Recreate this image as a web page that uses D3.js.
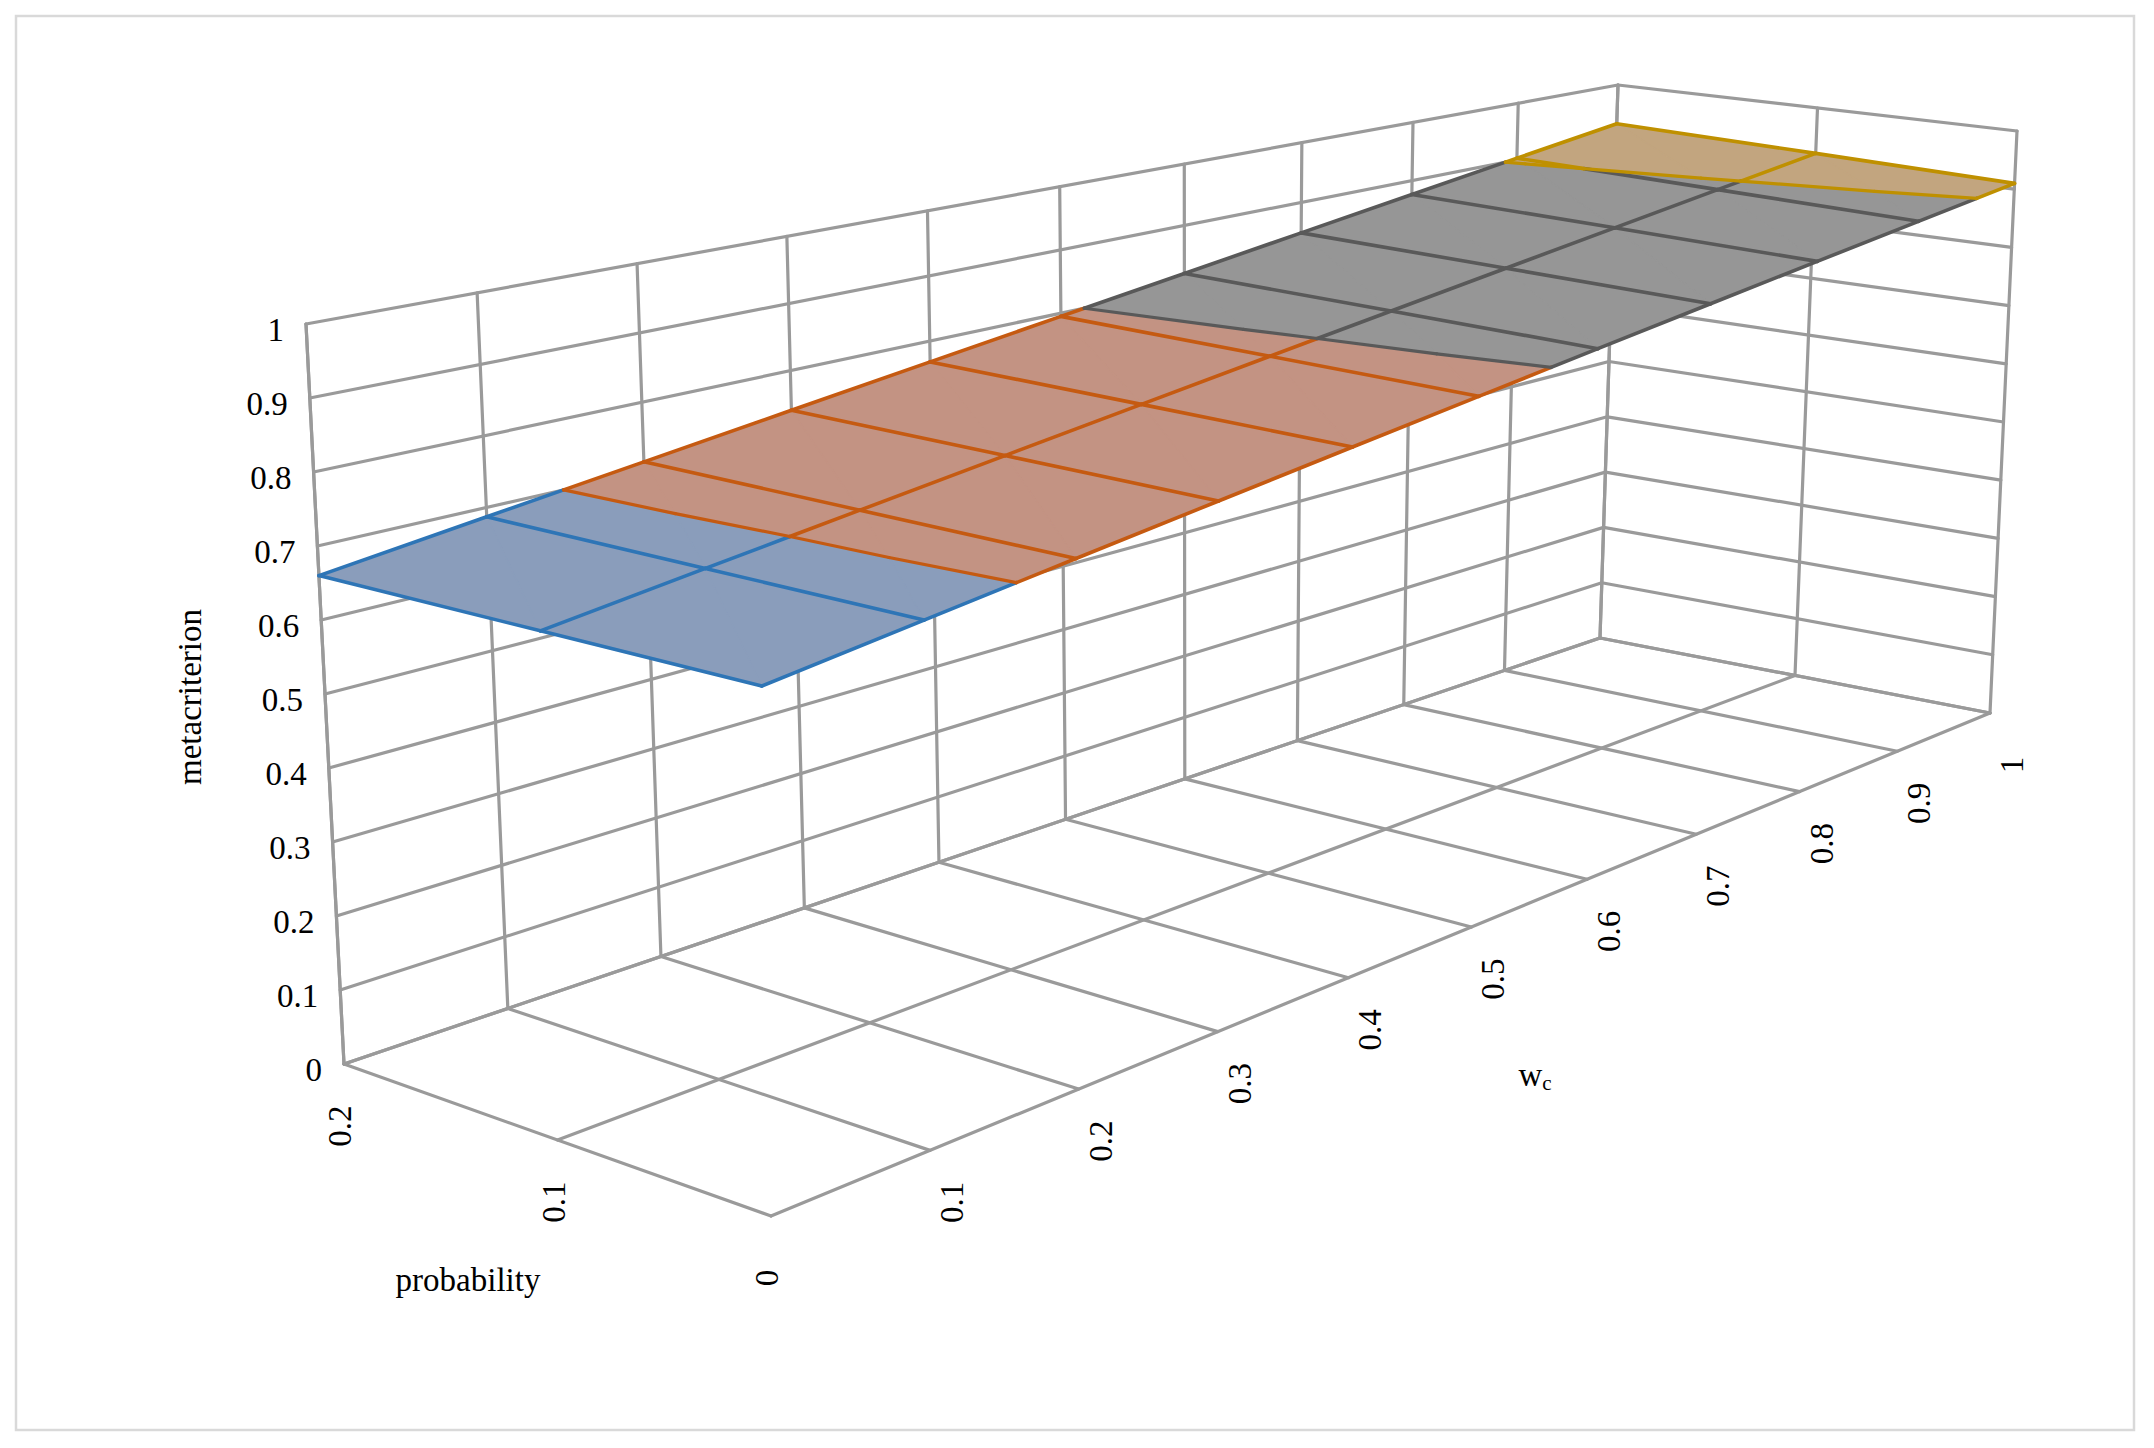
<!DOCTYPE html><html><head><meta charset="utf-8"><script src="https://cdn.jsdelivr.net/npm/d3@7"></script>
<style>body{margin:0;background:#fff}</style></head><body><svg id="c" width="2154" height="1448"></svg>
<script>
const wValues=[0,0.1,0.2,0.3,0.4,0.5,0.6,0.7,0.8,0.9,1];
const pValues=[0,0.1,0.2];
const zTicks=[0,0.1,0.2,0.3,0.4,0.5,0.6,0.7,0.8,0.9,1];
const zRow0=[0.66,0.685,0.71,0.735,0.76,0.785,0.81,0.835,0.86,0.885,0.91];
const zRow1=[0.66,0.686,0.712,0.738,0.764,0.79,0.816,0.842,0.868,0.894,0.92];
const zRow2=[0.66,0.687,0.714,0.741,0.768,0.795,0.822,0.849,0.876,0.903,0.93];
const zRows=[zRow0,zRow1,zRow2];
const bands=[0.6,0.7,0.8,0.9,1.0];
const fills=["#8a9dbb","#c39383","#969696","#c2a57f"];
const edges=["#2e75b6","#c55a11","#595959","#bf9000"];

const svg=d3.select("#c");
svg.append("rect").attr("x",16).attr("y",16).attr("width",2118).attr("height",1414).attr("fill","#fff").attr("stroke","#d9d9d9").attr("stroke-width",2.5);
const C={"000":[771,1216],"001":[757,413],"010":[1990,713],"011":[2017,131],
"100":[344,1064],"101":[306,324],"110":[1600,638],"111":[1618,85]};
const pS=d3.scaleLinear().domain([0,0.2]).range([0,1]);
const wS=d3.scaleLinear().domain([0,1]).range([0,1]);
const zS=d3.scaleLinear().domain([0,1]).range([0,1]);
const a=1.35;
function P(p,w,z){
  const u=pS(p), t0=wS(w), v=zS(z);
  const t=t0*a/(1+(a-1)*t0);
  let x=0,y=0;
  for(const i of [0,1])for(const j of [0,1])for(const k of [0,1]){
    const wt=(i?u:1-u)*(j?t:1-t)*(k?v:1-v);
    const c=C[""+i+j+k]; x+=wt*c[0]; y+=wt*c[1];
  }
  return [x,y];
}
const grid="#9a9a9a", gw=3.2;
function line(a,b,col,w){svg.append("line").attr("x1",a[0]).attr("y1",a[1]).attr("x2",b[0]).attr("y2",b[1]).attr("stroke",col).attr("stroke-width",w).attr("stroke-linecap","round");}
zTicks.forEach(z=>line(P(0.2,0,z),P(0.2,1,z),grid,gw));
wValues.forEach(w=>line(P(0.2,w,0),P(0.2,w,1),grid,gw));
zTicks.forEach(z=>line(P(0.2,1,z),P(0,1,z),grid,gw));
pValues.forEach(p=>line(P(p,1,0),P(p,1,1),grid,gw));
wValues.forEach(w=>line(P(0,w,0),P(0.2,w,0),grid,gw));
pValues.forEach(p=>line(P(p,0,0),P(p,1,0),grid,gw));
line(P(0.2,0,0),P(0.2,0,1),grid,gw);

function zAt(i,j){return zRows[i][j];}
function clip(poly,lo,hi){
  function cl(pts,f){const out=[];for(let k=0;k<pts.length;k++){const A=pts[k],B=pts[(k+1)%pts.length];const fa=f(A),fb=f(B);
    if(fa>=0)out.push(A); if((fa>=0)!==(fb>=0)){const s=fa/(fa-fb);out.push(A.map((v,q)=>v+s*(B[q]-v)));}}return out;}
  let r=cl(poly,P3=>P3[2]-lo); if(r.length) r=cl(r,P3=>hi-P3[2]); return r;
}
const gS=svg.append("g");
const contours=[];
for(let i=0;i<pValues.length-1;i++)for(let j=0;j<wValues.length-1;j++){
  const q=[[pValues[i],wValues[j],zAt(i,j)],[pValues[i],wValues[j+1],zAt(i,j+1)],[pValues[i+1],wValues[j+1],zAt(i+1,j+1)],[pValues[i+1],wValues[j],zAt(i+1,j)]];
  const tris=[[q[0],q[1],q[2]],[q[0],q[2],q[3]]];
  tris.forEach(tr=>{for(let b=0;b<bands.length-1;b++){const pc=clip(tr,bands[b],bands[b+1]);if(pc.length>=3){
    gS.append("path").attr("d","M"+pc.map(v=>P(v[0],v[1],v[2]).join(",")).join("L")+"Z").attr("fill",fills[b]).attr("stroke",fills[b]).attr("stroke-width",1.2);}}
    // contour at thresholds
    for(let b=1;b<bands.length-1;b++){const th=bands[b];const pts=[];
      for(let k=0;k<3;k++){const A=tr[k],B=tr[(k+1)%3];if((A[2]-th)*(B[2]-th)<0){const s=(th-A[2])/(B[2]-A[2]);pts.push(A.map((v,q2)=>v+s*(B[q2]-v)));}}
      if(pts.length===2)contours.push([pts[0],pts[1],b-1]);}
  });
}
function seg(A,B){for(let b=0;b<bands.length-1;b++){const lo=bands[b],hi=bands[b+1];
  let s0=0,s1=1;const za=A[2],zb=B[2];
  if(zb!==za){let t1=(lo-za)/(zb-za),t2=(hi-za)/(zb-za);if(t1>t2)[t1,t2]=[t2,t1];s0=Math.max(0,t1);s1=Math.min(1,t2);}else if(za<lo||za>hi)continue;
  if(s1>s0){const f=s=>A.map((v,q)=>v+s*(B[q]-v));const a1=f(s0),b1=f(s1);line(P(...a1),P(...b1),edges[b],3.6);}}}
for(let i=0;i<pValues.length;i++)for(let j=0;j<wValues.length-1;j++)seg([pValues[i],wValues[j],zAt(i,j)],[pValues[i],wValues[j+1],zAt(i,j+1)]);
for(let j=0;j<wValues.length;j++)for(let i=0;i<pValues.length-1;i++)seg([pValues[i],wValues[j],zAt(i,j)],[pValues[i+1],wValues[j],zAt(i+1,j)]);
contours.forEach(c=>line(P(...c[0]),P(...c[1]),edges[c[2]+1],3.2));

const font="Liberation Serif", fs=33;
function txt(x,y,s,anchor,rot){const t=svg.append("text").attr("x",x).attr("y",y).attr("font-family",font).attr("font-size",fs).attr("fill","#000").attr("text-anchor",anchor||"middle").attr("dominant-baseline","central").text(s);if(rot)t.attr("transform",`rotate(${rot},${x},${y})`);return t;}
zTicks.forEach(z=>{const p=P(0.2,0,z);txt(p[0]-22,p[1]+6,String(z),"end");});
wValues.slice(1).forEach(w=>{const p=P(0,w,0);txt(p[0]+22,p[1]+52,String(w),"middle",-90);});
pValues.forEach(pv=>{const p=P(pv,0,0);txt(p[0]-4,p[1]+62,String(pv),"middle",-90);});
txt(190,697,"metacriterion","middle",-90);
txt(468,1280,"probability","middle");
const wl=svg.append("text").attr("x",1535).attr("y",1075).attr("font-family",font).attr("font-size",fs).attr("text-anchor","middle").attr("dominant-baseline","central");
wl.append("tspan").text("w");wl.append("tspan").attr("font-size",21).attr("dy",8).text("c");
</script></body></html>
